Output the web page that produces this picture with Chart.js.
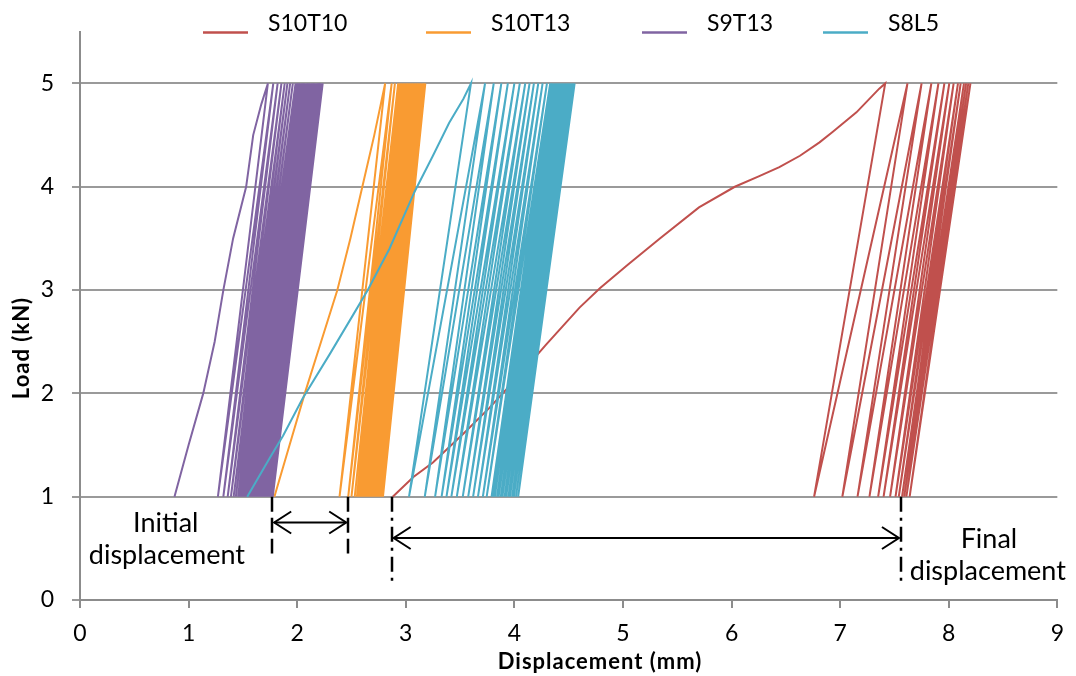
<!DOCTYPE html>
<html>
<head>
<meta charset="utf-8">
<script src="https://cdn.jsdelivr.net/npm/chart.js@4.4.0/dist/chart.umd.min.js"></script>
<style>
  html, body { margin: 0; padding: 0; background: #fff; }
</style>
</head>
<body>
<canvas id="myChart" width="1076" height="676"></canvas>
<script>
const names = ['S10T10', 'S10T13', 'S9T13', 'S8L5'];
const colors = ['#C0504D', '#F99B32', '#8064A2', '#4BACC6'];
const xTitle = 'Displacement (mm)';
const yTitle = 'Load (kN)';

// cycling limits (kN)
const minLoad = 1;
const maxLoad = 5;

// S10T10: first loading branch, then valleys (1 kN) and peaks (5 kN) of each later cycle
const s10t10FirstX = [2.88, 3.07, 3.25, 3.53, 3.77, 4.05, 4.29, 4.60, 4.79, 5.05, 5.34, 5.70, 6.03, 6.25, 6.44, 6.63, 6.81, 6.93, 7.15, 7.36, 7.415];
const s10t10FirstY = [1.00, 1.19, 1.33, 1.61, 1.86, 2.18, 2.47, 2.83, 3.02, 3.25, 3.50, 3.80, 4.00, 4.10, 4.19, 4.30, 4.43, 4.53, 4.72, 4.95, 5.00];
const s10t10Valleys = [6.76, 7.02, 7.16, 7.27, 7.35, 7.40, 7.46, 7.51, 7.54, 7.57, 7.59, 7.61, 7.64];
const s10t10Peaks = [7.62, 7.75, 7.84, 7.905, 7.96, 8.005, 8.045, 8.085, 8.11, 8.14, 8.16, 8.18, 8.20];

// S10T13
const s10t13FirstX = [1.79, 1.93, 2.07, 2.22, 2.37, 2.49, 2.60, 2.71, 2.81];
const s10t13FirstY = [1.00, 1.50, 2.00, 2.50, 3.00, 3.50, 4.00, 4.50, 5.00];
const s10t13Valleys = [2.39, 2.47, 2.50, 2.53, 2.55, 2.565, 2.58, 2.59, 2.605, 2.62, 2.63, 2.645, 2.66, 2.67, 2.685, 2.70, 2.71, 2.725, 2.74, 2.75, 2.765, 2.78, 2.79];
const s10t13Peaks = [2.87, 2.90, 2.93, 2.945, 2.96, 2.97, 2.985, 2.995, 3.01, 3.02, 3.035, 3.045, 3.06, 3.07, 3.085, 3.095, 3.11, 3.12, 3.135, 3.145, 3.16, 3.17, 3.18];

// S9T13
const s9t13FirstX = [0.87, 1.00, 1.135, 1.24, 1.32, 1.41, 1.53, 1.595, 1.67, 1.73];
const s9t13FirstY = [1.00, 1.50, 2.00, 2.50, 3.00, 3.50, 4.00, 4.50, 4.80, 5.00];
const s9t13Valleys = [1.27, 1.32, 1.36, 1.39, 1.415, 1.435, 1.455, 1.47, 1.485, 1.50, 1.51, 1.525, 1.54, 1.555, 1.565, 1.58, 1.595, 1.61, 1.62, 1.635, 1.65, 1.665, 1.675, 1.69, 1.705, 1.72, 1.73, 1.745, 1.76, 1.775];
const s9t13Peaks = [1.78, 1.82, 1.855, 1.885, 1.91, 1.935, 1.96, 1.985, 2.00, 2.01, 2.02, 2.03, 2.045, 2.055, 2.065, 2.075, 2.09, 2.10, 2.11, 2.12, 2.135, 2.145, 2.155, 2.165, 2.18, 2.19, 2.20, 2.21, 2.22, 2.235];

// S8L5
const s8l5FirstX = [1.54, 1.75, 1.87, 2.05, 2.30, 2.515, 2.65, 2.85, 3.08, 3.25, 3.40, 3.53, 3.60];
const s8l5FirstY = [1.00, 1.38, 1.59, 1.95, 2.38, 2.76, 3.00, 3.40, 3.95, 4.30, 4.62, 4.85, 5.00];
const s8l5Valleys = [3.03, 3.175, 3.27, 3.33, 3.375, 3.42, 3.47, 3.525, 3.575, 3.62, 3.665, 3.71, 3.745, 3.79, 3.805, 3.82, 3.84, 3.855, 3.875, 3.89, 3.91, 3.925, 3.945, 3.96, 3.98, 3.995, 4.015, 4.035];
const s8l5Peaks = [3.73, 3.81, 3.88, 3.94, 4.00, 4.05, 4.10, 4.14, 4.18, 4.22, 4.26, 4.30, 4.33, 4.345, 4.36, 4.375, 4.39, 4.405, 4.42, 4.435, 4.45, 4.465, 4.48, 4.495, 4.51, 4.525, 4.54, 4.555];

// marked displacements (mm)
const initialMarks = [1.77, 2.47];
const finalMarks = [2.87, 7.56];

function cycles(firstX, firstY, valleys, peaks) {
  const pts = firstX.map((x, i) => ({ x: x, y: firstY[i] }));
  valleys.forEach((v, i) => {
    pts.push({ x: v, y: minLoad });
    pts.push({ x: peaks[i], y: maxLoad });
  });
  return pts;
}

const series = [
  cycles(s10t10FirstX, s10t10FirstY, s10t10Valleys, s10t10Peaks),
  cycles(s10t13FirstX, s10t13FirstY, s10t13Valleys, s10t13Peaks),
  cycles(s9t13FirstX, s9t13FirstY, s9t13Valleys, s9t13Peaks),
  cycles(s8l5FirstX, s8l5FirstY, s8l5Valleys, s8l5Peaks)
];

const FONT = 'Lato';

function arrowHead(c, x, y, dir) {
  c.beginPath();
  c.moveTo(x + dir * 17, y - 11);
  c.lineTo(x, y);
  c.lineTo(x + dir * 17, y + 11);
  c.stroke();
}

// legend, axis titles and displacement annotations
const extras = {
  id: 'extras',
  afterDraw(chart) {
    const c = chart.ctx;
    const xs = chart.scales.x, ys = chart.scales.y;
    c.save();

    // legend
    const legendX = [203, 426, 642, 823];
    c.font = '23px ' + FONT;
    c.textBaseline = 'alphabetic';
    c.textAlign = 'left';
    chart.data.datasets.forEach((ds, i) => {
      c.strokeStyle = ds.borderColor;
      c.lineWidth = 2.5;
      c.beginPath();
      c.moveTo(legendX[i], 32.5);
      c.lineTo(legendX[i] + 45, 32.5);
      c.stroke();
      c.fillStyle = '#000';
      c.fillText(ds.label, legendX[i] + 65, 31);
    });

    // axis titles
    c.font = 'bold 22px ' + FONT;
    c.textAlign = 'center';
    c.textBaseline = 'middle';
    if ('letterSpacing' in c) c.letterSpacing = '1px';
    c.fillText(xTitle, 600, 662);
    c.save();
    c.translate(22, 348);
    c.rotate(-Math.PI / 2);
    c.fillText(yTitle, 0, 0);
    c.restore();
    if ('letterSpacing' in c) c.letterSpacing = '0px';

    // dashed markers
    c.strokeStyle = '#000';
    c.lineWidth = 2.5;
    c.setLineDash([15, 6]);
    const y1 = ys.getPixelForValue(minLoad);
    initialMarks.forEach(v => {
      const px = Math.round(xs.getPixelForValue(v));
      c.beginPath();
      c.moveTo(px, y1);
      c.lineTo(px, ys.getPixelForValue(0.45));
      c.stroke();
    });
    c.setLineDash([15, 6, 3, 6]);
    finalMarks.forEach(v => {
      const px = Math.round(xs.getPixelForValue(v));
      c.beginPath();
      c.moveTo(px, y1);
      c.lineTo(px, ys.getPixelForValue(0.14));
      c.stroke();
    });
    c.setLineDash([]);

    // arrows
    c.lineWidth = 2;
    const a1 = ys.getPixelForValue(0.75);
    const ia = xs.getPixelForValue(initialMarks[0]) + 2, ib = xs.getPixelForValue(initialMarks[1]) - 2;
    c.beginPath(); c.moveTo(ia, a1); c.lineTo(ib, a1); c.stroke();
    arrowHead(c, ia, a1, 1); arrowHead(c, ib, a1, -1);
    const a2 = ys.getPixelForValue(0.6);
    const fa = xs.getPixelForValue(finalMarks[0]) + 2, fb = xs.getPixelForValue(finalMarks[1]) - 2;
    c.beginPath(); c.moveTo(fa, a2); c.lineTo(fb, a2); c.stroke();
    arrowHead(c, fa, a2, 1); arrowHead(c, fb, a2, -1);

    // texts
    c.fillStyle = '#000';
    c.font = '27px ' + FONT;
    c.textAlign = 'center';
    c.textBaseline = 'middle';
    c.fillText('Initial', xs.getPixelForValue(0.79), ys.getPixelForValue(0.74));
    c.fillText('displacement', xs.getPixelForValue(0.80), ys.getPixelForValue(0.43));
    c.fillText('Final', xs.getPixelForValue(8.37), ys.getPixelForValue(0.59));
    c.fillText('displacement', xs.getPixelForValue(8.36), ys.getPixelForValue(0.28));
    c.restore();
  }
};

function build() {
  const ctx = document.getElementById('myChart');
  new Chart(ctx, {
    type: 'scatter',
    data: {
      datasets: names.map((n, i) => ({
        label: n,
        data: series[i],
        borderColor: colors[i],
        backgroundColor: colors[i],
        showLine: true,
        order: names.length - i
      }))
    },
    options: {
      responsive: false,
      animation: false,
      devicePixelRatio: 1,
      layout: { padding: { top: 29, right: 18, left: 0, bottom: 0 } },
      elements: {
        point: { radius: 0, hoverRadius: 0 },
        line: { borderWidth: 2, tension: 0 }
      },
      plugins: { legend: { display: false }, tooltip: { enabled: false } },
      scales: {
        x: {
          type: 'linear',
          min: 0, max: 9,
          ticks: { stepSize: 1, color: '#000', font: { family: FONT, size: 23 }, padding: 12, maxRotation: 0 },
          grid: { drawOnChartArea: false, drawTicks: true, tickLength: 8, color: '#8c8c8c', lineWidth: 2 },
          border: { color: '#8c8c8c', width: 2 },
          afterFit: s => { s.height = 76; }
        },
        y: {
          type: 'linear',
          min: 0, max: 5.5,
          ticks: { stepSize: 1, color: '#000', font: { family: FONT, size: 23 }, padding: 18 },
          afterBuildTicks: s => { s.ticks = s.ticks.filter(t => Number.isInteger(t.value)); },
          grid: { color: '#9a9a9a', lineWidth: 2, tickLength: 8 },
          border: { color: '#8c8c8c', width: 2 },
          afterFit: s => { s.width = 80; }
        }
      }
    },
    plugins: [extras]
  });
}

Promise.all([
  document.fonts.load('23px Lato'),
  document.fonts.load('bold 22px Lato')
]).then(build, build);
</script>
</body>
</html>
